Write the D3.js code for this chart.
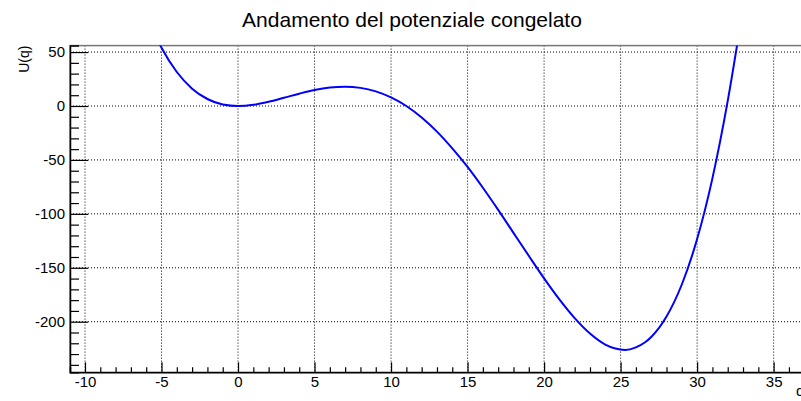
<!DOCTYPE html>
<html>
<head>
<meta charset="utf-8">
<script src="https://cdn.jsdelivr.net/npm/d3@7"></script>
<style>
body { margin: 0; background: #fff; }
text { font-family: "Liberation Sans", Arial, sans-serif; }
</style>
</head>
<body>
<svg id="myGraph" width="801" height="401"></svg>
<script>
// valori (q, U(q))
var qVals = [-5.2, -5, -4, -3, -2, -1, 0, 1, 2, 3, 4, 5, 6, 7, 8, 9, 10, 11, 12, 13, 14, 15, 16, 17, 18, 19, 20, 21, 22, 23, 24, 24.6, 25.3, 26, 26.6, 27, 28, 29, 30, 31, 32, 32.8];
var uVals = [59.5, 54, 31.5, 16.1, 6.5, 1.4, 0, 1.1, 3.9, 7.6, 11.4, 14.8, 17.1, 17.9, 16.8, 13.6, 8.0, 0, -10.7, -23.8, -39.3, -56.5, -75.8, -96.3, -117.6, -138.9, -159.8, -179.3, -196.7, -211, -221.2, -224.6, -226.2, -223.8, -219.1, -214.2, -195.2, -165.5, -123.4, -67.1, 4.7, 73];
var xTicks = [-10, -5, 0, 5, 10, 15, 20, 25, 30, 35];
var yTicks = [-200, -150, -100, -50, 0, 50];
var titolo = "Andamento del potenziale congelato";

var svg = d3.select("#myGraph");

// bordi del riquadro (non usare "top": e' window.top)
var pLeft = 70, pRight = 805, pTop = 45.6, pBottom = 372.3;

var x = d3.scaleLinear().domain([-10.98, 37.05]).range([pLeft, pRight]);
var y = d3.scaleLinear().domain([-246.9, 56]).range([pBottom, pTop]);

// etichette con il trattino semplice, come ROOT
var fmt = function(d){ return String(d); };

// griglia
svg.selectAll("line.vgrid")
    .data(xTicks)
    .enter()
    .append("line")
    .attr("x1", function(d){ return x(d); })
    .attr("x2", function(d){ return x(d); })
    .attr("y1", pTop)
    .attr("y2", pBottom)
    .attr("stroke", "#000")
    .attr("stroke-width", 1)
    .attr("stroke-dasharray", "1,2");

svg.selectAll("line.hgrid")
    .data(yTicks)
    .enter()
    .append("line")
    .attr("x1", pLeft)
    .attr("x2", pRight)
    .attr("y1", function(d){ return y(d); })
    .attr("y2", function(d){ return y(d); })
    .attr("stroke", "#000")
    .attr("stroke-width", 1)
    .attr("stroke-dasharray", "1,2");

// cornice
svg.append("rect")
    .attr("x", pLeft)
    .attr("y", pTop)
    .attr("width", pRight - pLeft)
    .attr("height", pBottom - pTop)
    .attr("fill", "none")
    .attr("stroke", "#777")
    .attr("stroke-width", 1.5);

// curva
svg.append("clipPath")
    .attr("id", "clip")
    .append("rect")
    .attr("x", pLeft)
    .attr("y", pTop)
    .attr("width", pRight - pLeft)
    .attr("height", pBottom - pTop);

var points = qVals.map(function(q, i){ return [q, uVals[i]]; });
var line = d3.line()
    .x(function(d){ return x(d[0]); })
    .y(function(d){ return y(d[1]); })
    .curve(d3.curveMonotoneX);

svg.append("path")
    .datum(points)
    .attr("clip-path", "url(#clip)")
    .attr("d", line)
    .attr("fill", "none")
    .attr("stroke", "#0000ff")
    .attr("stroke-width", 2);

// assi (tacche verso l'interno, come ROOT)
var xAxis = d3.axisTop(x)
    .tickValues(d3.range(-10, 38, 1))
    .tickSize(5)
    .tickFormat("");
var gx = svg.append("g").attr("transform", "translate(0," + pBottom + ")").call(xAxis);
gx.selectAll(".tick line")
    .attr("y2", function(d){ return d % 5 === 0 ? -10 : -5; });

var gxl = svg.append("g").attr("transform", "translate(0," + pBottom + ")")
    .call(d3.axisBottom(x).tickValues(xTicks).tickSize(0).tickPadding(4).tickFormat(fmt));
gxl.select(".domain").remove();

var yAxis = d3.axisRight(y)
    .tickValues(d3.range(-240, 60, 10))
    .tickSize(9)
    .tickFormat("");
var gy = svg.append("g").attr("transform", "translate(" + pLeft + ",0)").call(yAxis);
gy.selectAll(".tick line")
    .attr("x2", function(d){ return d % 50 === 0 ? 18 : 9; });

var gyl = svg.append("g").attr("transform", "translate(" + pLeft + ",0)")
    .call(d3.axisLeft(y).tickValues(yTicks).tickSize(0).tickPadding(5).tickFormat(fmt));
gyl.select(".domain").remove();

gx.select(".domain").attr("stroke", "#000").attr("stroke-width", 1.5);
gy.select(".domain").attr("stroke", "#000").attr("stroke-width", 1.5);
svg.selectAll(".tick line").attr("stroke", "#000").attr("stroke-width", 1.2);
svg.selectAll(".tick text")
    .attr("font-family", "'Liberation Sans', Arial, sans-serif")
    .attr("font-size", 15)
    .attr("fill", "#000");

// titoli
svg.append("text")
    .attr("x", 412)
    .attr("y", 27)
    .attr("text-anchor", "middle")
    .attr("font-size", 21)
    .text(titolo);

svg.append("text")
    .attr("transform", "translate(29," + pTop + ") rotate(-90)")
    .attr("text-anchor", "end")
    .attr("font-size", 14)
    .text("U(q)");

svg.append("text")
    .attr("x", 796)
    .attr("y", 396)
    .attr("font-size", 15)
    .text("q");
</script>
</body>
</html>
